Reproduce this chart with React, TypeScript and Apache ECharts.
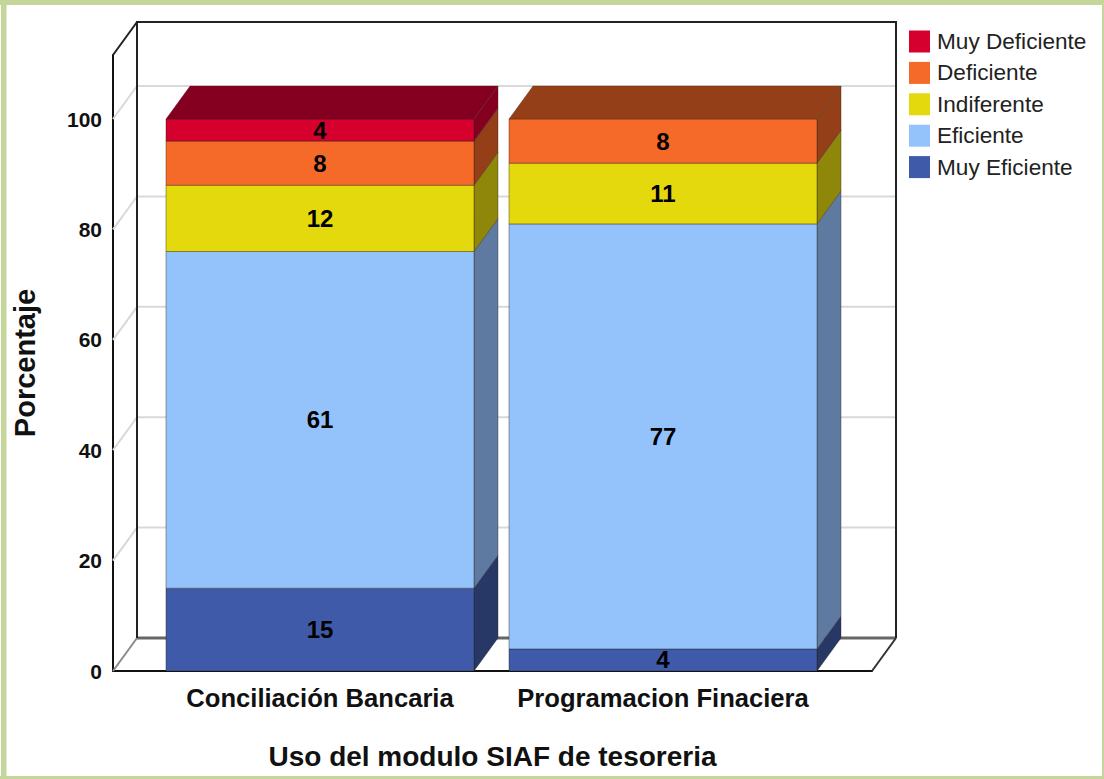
import React, { useEffect, useRef } from "react";
import * as echarts from "echarts";

const categories = ["Conciliación Bancaria", "Programacion Finaciera"];
const seriesNames = ["Muy Eficiente", "Eficiente", "Indiferente", "Deficiente", "Muy Deficiente"];
const muyEficiente = [15, 4];
const eficiente = [61, 77];
const indiferente = [12, 11];
const deficiente = [8, 8];
const muyDeficiente = [4, 0];
const yTicks = [0, 20, 40, 60, 80, 100];

const frontColors = ["#3f5aa8", "#94c2fb", "#e4d90c", "#f66a29", "#d6002f"];
const sideColors = ["#283866", "#5e7aa0", "#8f870a", "#953f18", "#850020"];

const FONT = "'Liberation Sans', Arial, sans-serif";
const DEPTH_X = 24;
const DEPTH_Y = 33;
const BAR_DEPTH_X = 24;
const BAR_HALF = 0.449;

const X_MIN = -0.6035;
const X_MAX = 1.6093;
const Y_MAX = 111.6;

const stacks = [muyEficiente, eficiente, indiferente, deficiente, muyDeficiente];

// Walls, floor and the gridlines that wrap from the left wall onto the back wall.
function renderFrame(_params: any, api: any) {
  const [x0, y0] = api.coord([X_MIN, 0]);
  const [x1, yTop] = api.coord([X_MAX, Y_MAX]);
  const bx0 = x0 + DEPTH_X;
  const bx1 = x1 + DEPTH_X;
  const by0 = y0 - DEPTH_Y;
  const byTop = yTop - DEPTH_Y;
  const line = (points: number[][], stroke: string, lineWidth = 2) => ({
    type: "polyline",
    shape: { points },
    style: { stroke, lineWidth, fill: "none" },
  });
  const grid = yTicks
    .filter((t) => t > 0)
    .map((t) => {
      const y = api.coord([X_MIN, t])[1];
      return line([[x0, y], [bx0, y - DEPTH_Y], [bx1, y - DEPTH_Y]], "#d9d9d9");
    });
  return {
    type: "group",
    children: [
      ...grid,
      line([[bx0, by0], [bx1, by0]], "#666666", 3),
      line([[x0, y0], [bx0, by0]], "#8a8a8a"),
      line([[x1, y0], [bx1, by0]], "#333333"),
      line([[bx0, by0], [bx0, byTop], [bx1, byTop], [bx1, by0]], "#222222", 2),
      line([[x0, yTop], [bx0, byTop]], "#222222"),
    ],
  };
}

// One stacked segment: front face, side face, top face on the highest segment, and its value.
function renderSegment(_params: any, api: any) {
  const cat = api.value(0);
  const start = api.value(1);
  const end = api.value(2);
  const value = end - start;
  const colorIdx = api.value(3);
  const isTop = api.value(4) === 1;
  if (value <= 0) return null;
  const [xl, yb] = api.coord([cat - BAR_HALF, start]);
  const [xr, yt] = api.coord([cat + BAR_HALF, end]);
  const sx = xr + BAR_DEPTH_X;
  const children: any[] = [
    {
      type: "polygon",
      shape: { points: [[xr, yt], [sx, yt - DEPTH_Y], [sx, yb - DEPTH_Y], [xr, yb]] },
      style: { fill: sideColors[colorIdx], stroke: "rgba(40,30,20,0.35)", lineWidth: 1 },
    },
    {
      type: "rect",
      shape: { x: xl, y: yt, width: xr - xl, height: yb - yt },
      style: { fill: frontColors[colorIdx], stroke: "rgba(40,30,20,0.4)", lineWidth: 1 },
    },
  ];
  if (isTop) {
    children.push({
      type: "polygon",
      shape: { points: [[xl, yt], [xl + BAR_DEPTH_X, yt - DEPTH_Y], [sx, yt - DEPTH_Y], [xr, yt]] },
      style: { fill: sideColors[colorIdx], stroke: "rgba(40,30,20,0.25)", lineWidth: 1 },
    });
  }
  children.push({
    type: "text",
    style: {
      text: String(value),
      x: (xl + xr) / 2,
      y: (yt + yb) / 2,
      align: "center",
      verticalAlign: "middle",
      fill: "#000000",
      font: `bold 24px ${FONT}`,
    },
  });
  return { type: "group", children };
}

function buildSegments() {
  return stacks.map((values, s) =>
    values.map((v, cat) => {
      const start = stacks.slice(0, s).reduce((sum, a) => sum + a[cat], 0);
      const isTop = stacks.slice(s + 1).every((a) => a[cat] === 0) ? 1 : 0;
      return [cat, start, start + v, s, isTop];
    })
  );
}

export default function App() {
  const ref = useRef<HTMLDivElement>(null);

  useEffect(() => {
    document.body.style.margin = "0";
    const chart = echarts.init(ref.current!, undefined, { renderer: "svg" });
    const segments = buildSegments();
    const border = "#c5d69b";
    chart.setOption({
      animation: false,
      backgroundColor: "#ffffff",
      grid: { left: 113, right: 232, top: 55, bottom: 108 },
      legend: {
        orient: "vertical",
        left: 909,
        top: 30,
        padding: 0,
        itemWidth: 21,
        itemHeight: 22,
        itemGap: 8.4,
        icon: "rect",
        selectedMode: false,
        data: [...seriesNames].reverse(),
        textStyle: { fontFamily: FONT, fontSize: 22.6, color: "#222222", padding: [0, 0, 0, 2] },
      },
      xAxis: {
        type: "value",
        min: X_MIN,
        max: X_MAX,
        splitLine: { show: false },
        axisTick: { show: false },
        axisLine: { show: true, onZero: false, lineStyle: { color: "#111111", width: 2 } },
        axisLabel: {
          customValues: [0, 1],
          formatter: (v: number) => categories[Math.round(v)] ?? "",
          fontFamily: FONT,
          fontSize: 25.6,
          fontWeight: "bold",
          color: "#111111",
          margin: 14,
        },
        name: "Uso del modulo SIAF de tesoreria",
        nameLocation: "middle",
        nameGap: 71,
        nameTextStyle: { fontFamily: FONT, fontSize: 28, fontWeight: "bold", color: "#111111" },
      },
      yAxis: {
        type: "value",
        min: 0,
        max: Y_MAX,
        splitLine: { show: false },
        axisTick: { show: false },
        axisLine: { show: true, onZero: false, lineStyle: { color: "#111111", width: 2 } },
        axisLabel: {
          customValues: yTicks,
          fontFamily: FONT,
          fontSize: 21,
          fontWeight: "bold",
          color: "#111111",
          margin: 11,
        },
        name: "Porcentaje",
        nameLocation: "middle",
        nameGap: 74,
        nameTextStyle: { fontFamily: FONT, fontSize: 29, fontWeight: "bold", color: "#111111" },
      },
      series: [
        {
          type: "custom",
          name: "frame",
          renderItem: renderFrame,
          data: [[0, 0]],
          silent: true,
          z: 1,
          clip: false,
        },
        ...seriesNames.map((name, s) => ({
          type: "custom",
          name,
          renderItem: renderSegment,
          data: segments[s],
          dimensions: ["cat", "start", "end", "color", "top"],
          itemStyle: { color: frontColors[s] },
          encode: { x: 0, y: [1, 2] },
          z: 3,
          clip: false,
        })),
      ],
      graphic: [
        { type: "rect", shape: { x: 0, y: 0, width: 1104, height: 5 }, style: { fill: border } },
        { type: "rect", shape: { x: 0, y: 776, width: 1104, height: 3 }, style: { fill: border } },
        { type: "rect", shape: { x: 1, y: 0, width: 5.5, height: 779 }, style: { fill: border } },
        { type: "rect", shape: { x: 1102, y: 0, width: 2, height: 779 }, style: { fill: border } },
      ],
    });
    return () => chart.dispose();
  }, []);

  return <div ref={ref} style={{ width: 1104, height: 779 }} />;
}
